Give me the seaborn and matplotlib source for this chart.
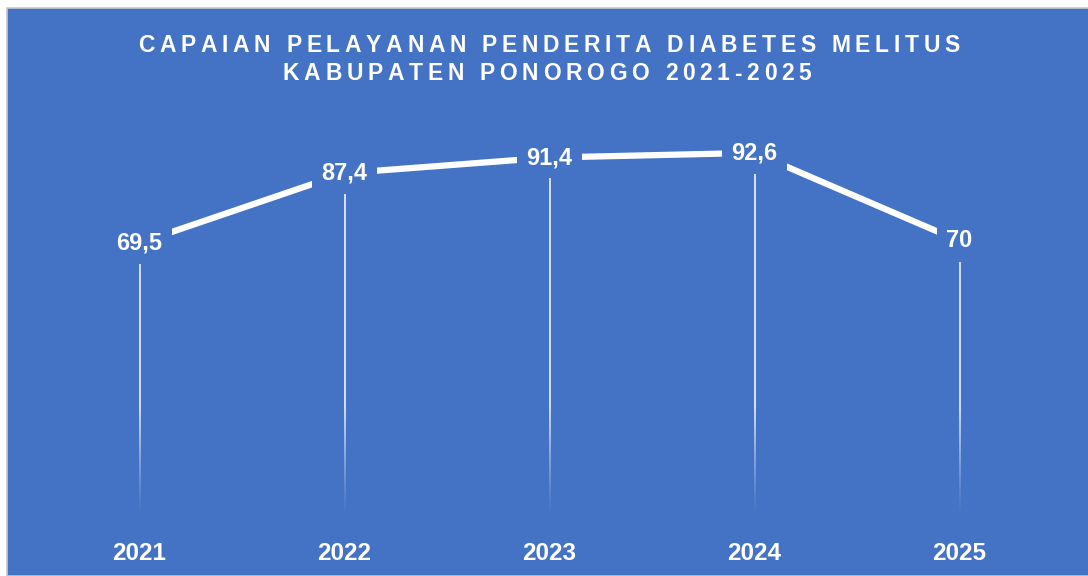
import numpy as np
import pandas as pd
import matplotlib.pyplot as plt
import seaborn as sns
from matplotlib.patches import Rectangle
from matplotlib.colors import to_rgb
from matplotlib.collections import LineCollection

years = ['2021', '2022', '2023', '2024', '2025']
capaian = [69.5, 87.4, 91.4, 92.6, 70]
labels = ['69,5', '87,4', '91,4', '92,6', '70']
title_lines = ['CAPAIAN PELAYANAN PENDERITA DIABETES MELITUS',
               'KABUPATEN PONOROGO 2021-2025']

blue = '#4472C4'
df = pd.DataFrame({'pos': range(len(years)), 'tahun': years, 'nilai': capaian})

sns.set_style('white')
plt.rcParams['font.family'] = ['Liberation Sans', 'DejaVu Sans']

W, H = 1088, 576
fig = plt.figure(figsize=(W / 100, H / 100), dpi=100, facecolor='white')
# latar biru
fig.patches.append(Rectangle((7 / W, 0), 1, (H - 8) / H, transform=fig.transFigure,
                             facecolor=blue, edgecolor='#c8c8c8', linewidth=1.2, zorder=-5))

ax = fig.add_axes([37 / W, 62 / H, 1025 / W, 390 / H])
ax.set_facecolor('none')
ax.set_zorder(2)

# garis jatuh, memudar ke arah bawah (warna dicampur dengan latar)
c_bg = np.array(to_rgb(blue))
c_ln = np.array(to_rgb('#d3ddf1'))
segs, cols = [], []
for i, v in enumerate(capaian):
    ys = np.linspace(0, v, 150)
    for a, b in zip(ys[:-1], ys[1:]):
        segs.append([(i, a), (i, b)])
        t = min(1.0, b / 28) ** 1.2
        cols.append(c_bg * (1 - t) + c_ln * t)
ax.add_collection(LineCollection(segs, colors=cols, linewidths=1.44, zorder=1,
                                 capstyle='butt', antialiaseds=False))

sns.lineplot(data=df, x='pos', y='nilai', ax=ax, color='white', linewidth=4.5,
             zorder=2, legend=False)

for i, (v, lab) in enumerate(zip(capaian, labels)):
    ax.text(i, v, lab, ha='center', va='center', color='white', fontsize=17,
            fontweight='bold', zorder=3,
            bbox=dict(boxstyle='square,pad=0.4', facecolor=blue, edgecolor='none'))

ax.set_xlim(-0.5, len(years) - 0.5)
ax.set_ylim(0, 100)
ax.set_xticks(range(len(years)))
ax.set_xticklabels(years)
ax.set_yticks([])
ax.tick_params(axis='x', length=0, pad=20, labelsize=17.5, labelcolor='white')
for t in ax.get_xticklabels():
    t.set_fontweight('bold')
ax.set_xlabel('')
ax.set_ylabel('')
for s in ax.spines.values():
    s.set_visible(False)

# judul dengan jarak huruf
renderer = fig.canvas.get_renderer()


def spaced_text(s, xc, yc, size, gap):
    widths = []
    for ch in s:
        if ch == ' ':
            widths.append(size * 100 / 72 * 0.28)
            continue
        t = fig.text(0, 0, ch, fontsize=size, fontweight='bold')
        widths.append(t.get_window_extent(renderer).width)
        t.remove()
    total = sum(widths) + gap * (len(s) - 1)
    x = xc - total / 2
    for ch, w in zip(s, widths):
        if ch != ' ':
            fig.text(x / W, 1 - yc / H, ch, fontsize=size, fontweight='bold',
                     color='white', ha='left', va='center')
        x += w + gap


spaced_text(title_lines[0], 549, 45, 16.5, 4.7)
spaced_text(title_lines[1], 547, 74, 16.5, 4.7)

fig.savefig('out.png', dpi=100, facecolor='white')
